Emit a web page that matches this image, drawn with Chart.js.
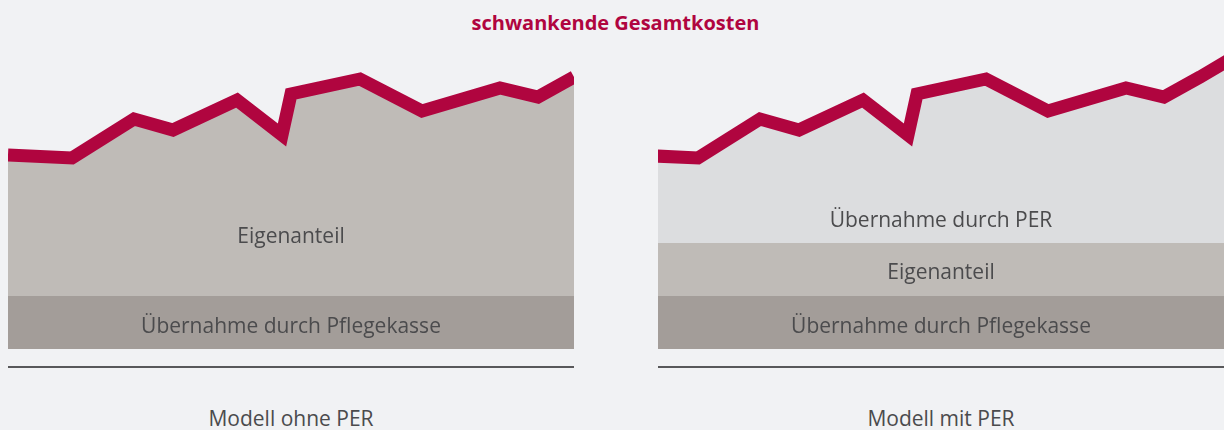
<!DOCTYPE html>
<html>
<head>
<meta charset="utf-8">
<script src="https://cdn.jsdelivr.net/npm/chart.js@4"></script>
<style>
  html, body { margin: 0; padding: 0; }
  body {
    width: 1224px; height: 430px; overflow: hidden; position: relative;
    background: #f1f2f4; font-family: "Open Sans", sans-serif;
  }
  .title {
    position: absolute; left: 0; width: 1231px; top: 9px; text-align: center;
    color: #b0053f; font-weight: bold; font-size: 20px;
  }
  .panel { position: absolute; top: 41px; width: 566px; height: 308px; }
  .rule { position: absolute; top: 366px; width: 566px; height: 2px; background: #58585a; }
  .caption {
    position: absolute; top: 404px; width: 566px; text-align: center;
    color: #4b4b4d; font-size: 21px;
  }
</style>
</head>
<body>
<div class="title">schwankende Gesamtkosten</div>

<div class="panel" style="left:8px"><canvas id="ohnePer"></canvas></div>
<div class="panel" style="left:658px"><canvas id="mitPer"></canvas></div>

<div class="rule" style="left:8px"></div>
<div class="rule" style="left:658px"></div>

<div class="caption" style="left:8px">Modell ohne PER</div>
<div class="caption" style="left:658px">Modell mit PER</div>

<script>
// zeitachse (gleiche kurve fuer beide modelle, rechts um 24 verschoben)
const zeit = [0, 64, 126, 165, 229, 274, 283, 352, 414, 492, 530, 566, 600];
// gesamtkosten (oberkante der roten linie)
const gesamtkosten = [194, 191, 230, 219, 249, 214, 255, 270, 238, 261, 252, 272, 292];
// fester anteil der pflegekasse
const pflegekasse = [53, 53, 53, 53, 53, 53, 53, 53, 53, 53, 53, 53, 53];
// eigenanteil + pflegekasse im modell mit PER (fest)
const eigenanteilMitPer = [106, 106, 106, 106, 106, 106, 106, 106, 106, 106, 106, 106, 106];

const rot = "#b0053f";
const farbePflegekasse = "#a39d99";
const farbeEigenanteil = "#bfbbb7";
const farbePer = "#dcdddf";

function punkte(werte) {
	return zeit.map(function (x, i) {
		return { x: x, y: werte[i] };
	});
}

// beschriftung in den flaechen
const flaechenText = {
	id: "flaechenText",
	afterDatasetsDraw(chart, args, opts) {
		const ctx = chart.ctx;
		const area = chart.chartArea;
		const y = chart.scales.y;
		ctx.save();
		ctx.font = "21px 'Open Sans'";
		ctx.fillStyle = "#4b4b4d";
		ctx.textAlign = "center";
		ctx.textBaseline = "alphabetic";
		opts.labels.forEach(function (l) {
			ctx.fillText(l.text, (area.left + area.right) / 2, y.getPixelForValue(l.wert));
		});
		ctx.restore();
	},
};

function optionen(xmin, xmax, labels) {
	return {
		responsive: true,
		maintainAspectRatio: false,
		animation: false,
		layout: { padding: 0 },
		elements: { point: { radius: 0 }, line: { tension: 0 } },
		scales: {
			x: { type: "linear", min: xmin, max: xmax, display: false },
			y: { min: 0, max: 308, display: false },
		},
		plugins: {
			legend: { display: false },
			tooltip: { enabled: false },
			flaechenText: { labels: labels },
		},
	};
}

const chartOhne = new Chart(document.getElementById("ohnePer"), {
	type: "line",
	data: {
		datasets: [
			{
				label: "Übernahme durch Pflegekasse",
				data: punkte(pflegekasse),
				borderWidth: 0,
				backgroundColor: farbePflegekasse,
				fill: "origin",
				clip: 0,
			},
			{
				label: "Eigenanteil",
				data: punkte(gesamtkosten),
				borderColor: rot,
				borderWidth: 13,
				borderJoinStyle: "miter",
				borderCapStyle: "butt",
				backgroundColor: farbeEigenanteil,
				fill: "origin",
				clip: 0,
			},
		],
	},
	options: optionen(0, 566, [
		{ text: "Eigenanteil", wert: 106 },
		{ text: "Übernahme durch Pflegekasse", wert: 16 },
	]),
	plugins: [flaechenText],
});

const chartMit = new Chart(document.getElementById("mitPer"), {
	type: "line",
	data: {
		datasets: [
			{
				label: "Übernahme durch Pflegekasse",
				data: punkte(pflegekasse),
				borderWidth: 0,
				backgroundColor: farbePflegekasse,
				fill: "origin",
				clip: 0,
			},
			{
				label: "Eigenanteil",
				data: punkte(eigenanteilMitPer),
				borderWidth: 0,
				backgroundColor: farbeEigenanteil,
				fill: "origin",
				clip: 0,
			},
			{
				label: "Übernahme durch PER",
				data: punkte(gesamtkosten),
				borderColor: rot,
				borderWidth: 13,
				borderJoinStyle: "miter",
				borderCapStyle: "butt",
				backgroundColor: farbePer,
				fill: "origin",
				clip: 0,
			},
		],
	},
	options: optionen(24, 590, [
		{ text: "Übernahme durch PER", wert: 122 },
		{ text: "Eigenanteil", wert: 70 },
		{ text: "Übernahme durch Pflegekasse", wert: 16 },
	]),
	plugins: [flaechenText],
});
</script>
</body>
</html>
